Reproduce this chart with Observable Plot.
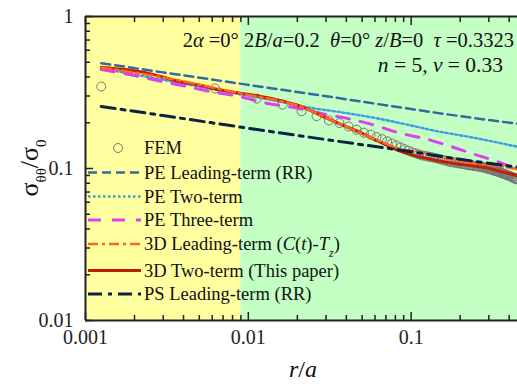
<!DOCTYPE html>
<html><head><meta charset="utf-8">
<script src="https://cdn.jsdelivr.net/npm/d3@7"></script>
<script src="https://cdn.jsdelivr.net/npm/@observablehq/plot@0.6"></script>
<style>
body{margin:0;background:#fff}
svg{display:block}
#chart svg, #chart svg text, #chart svg tspan { font-family: "Liberation Serif", "Times New Roman", serif !important; }
</style>
</head><body><div id="chart"></div>
<script>
// ---- data ----
const femR = [0.00125,0.00625,0.01125,0.01625,0.02125,0.02625,0.03125,0.03625,0.04125,0.04625,
  0.05125,0.05625,0.06125,0.06625,0.07125,0.07625,0.08125,0.08625,0.09125,0.09625,
  0.10125,0.10625,0.11125,0.11625,0.12125,0.12625,0.13125,0.13625,0.14125,0.14625,
  0.15125,0.15625,0.16125,0.16625,0.17125,0.17625,0.18125,0.18625,0.19125,0.19625,
  0.20125,0.20625,0.21125,0.21625,0.22125,0.22625,0.23125,0.23625,0.24125,0.24625,
  0.25125,0.25625,0.26125,0.26625,0.27125,0.27625,0.28125,0.28625,0.29125,0.29625,
  0.30125,0.30625,0.31125,0.31625,0.32125,0.32625,0.33125,0.33625,0.34125,0.34625,
  0.35125,0.35625,0.36125,0.36625,0.37125,0.37625,0.38125,0.38625,0.39125,0.39625,
  0.40125,0.40625,0.41125,0.41625,0.42125,0.42625,0.43125,0.43625,0.44125,0.44625];
const femS = [0.346,0.336,0.288,0.263,0.238,0.221,0.207,0.199,0.189,0.180,
  0.172,0.167,0.161,0.156,0.151,0.146,0.142,0.138,0.134,0.131,
  0.128,0.126,0.124,0.122,0.121,0.120,0.119,0.118,0.117,0.116,
  0.115,0.114,0.113,0.112,0.111,0.110,0.110,0.109,0.109,0.108,
  0.108,0.107,0.107,0.106,0.106,0.105,0.105,0.105,0.104,0.104,
  0.104,0.103,0.103,0.103,0.102,0.102,0.101,0.101,0.100,0.100,
  0.099,0.099,0.098,0.098,0.097,0.097,0.096,0.096,0.095,0.095,
  0.094,0.094,0.093,0.093,0.092,0.092,0.091,0.091,0.090,0.090,
  0.089,0.089,0.088,0.088,0.087,0.087,0.086,0.086,0.085,0.085];

const peLeadR = [0.00125,0.003,0.01,0.03,0.1,0.2,0.45];
const peLeadS = [0.493,0.429,0.355,0.299,0.246,0.221,0.197];

const peTwoR = [0.00125,0.003,0.0089,0.0163,0.0229,0.0366,0.0643,0.0893,0.144,0.23,0.45];
const peTwoS = [0.455,0.383,0.308,0.273,0.253,0.235,0.212,0.197,0.176,0.161,0.139];

const peThreeR = [0.00125,0.002,0.0029,0.0042,0.0061,0.0089,0.0129,0.0195,0.0275,0.0417,0.0573,0.085,0.122,0.167,0.239,0.33,0.45];
const peThreeS = [0.448,0.409,0.375,0.346,0.318,0.297,0.269,0.251,0.231,0.212,0.195,0.171,0.157,0.142,0.125,0.112,0.099];

const d3LeadR = [0.00125,0.0029,0.0089,0.021,0.037,0.06,0.089,0.114,0.144,0.181,0.23,0.29,0.366,0.45];
const d3LeadS = [0.462,0.400,0.312,0.255,0.195,0.156,0.133,0.128,0.120,0.114,0.109,0.106,0.103,0.099];

const d3TwoR = [0.00125,0.0018,0.0024,0.0029,0.0037,0.0051,0.0067,0.0089,0.0119,0.0157,0.021,0.028,0.037,0.049,0.06,0.071,0.089,0.114,0.144,0.181,0.23,0.29,0.366,0.45];
const d3TwoS = [0.464,0.446,0.424,0.403,0.375,0.352,0.329,0.313,0.298,0.280,0.256,0.223,0.195,0.172,0.155,0.142,0.128,0.119,0.113,0.108,0.1047,0.101,0.0946,0.090];

const psLeadR = [0.00125,0.003,0.01,0.03,0.1,0.2,0.45];
const psLeadS = [0.256,0.223,0.184,0.155,0.129,0.115,0.102];

const bgX1 = [0.001, 0.009];
const bgX2 = [0.009, 0.45];
const bgFill = ["#ffffa0", "#c4ffc4"];

const xMajor = [0.001, 0.01, 0.1];
const xMajorLabels = ["0.001", "0.01", "0.1"];
const xMinor = [0.002,0.003,0.004,0.005,0.006,0.007,0.008,0.009,0.02,0.03,0.04,0.05,0.06,0.07,0.08,0.09,0.2,0.3,0.4];
const yMajor = [0.01, 0.1, 1];
const yMajorLabels = ["0.01", "0.1", "1"];
const yMinor = [0.02,0.03,0.04,0.05,0.06,0.07,0.08,0.09,0.2,0.3,0.4,0.5,0.6,0.7,0.8,0.9];

// ---- styles ----
const C = {
  fem: "#777777", peLead: "#2f6c9c", peTwo: "#3d9de0", peThree: "#e03ff0",
  d3Lead: "#ff6420", d3Two: "#c01e08", psLead: "#0b2242", axis: "#222"
};
const serif = "'Liberation Serif', 'Times New Roman', serif";

const plot = Plot.plot({
  width: 517, height: 388,
  marginLeft: 85, marginRight: 0, marginTop: 16, marginBottom: 68,
  style: {fontFamily: serif, fontSize: "20px", color: "#222", background: "#fff", overflow: "visible"},
  x: {type: "log", domain: [0.001, 0.45], axis: null},
  y: {type: "log", domain: [0.01, 1], axis: null},
  color: {type: "identity"},
  marks: [
    Plot.rect(bgX1, {x1: d => d, x2: (d, i) => bgX2[i], y1: 0.01, y2: 1, fill: (d, i) => bgFill[i]}),
    Plot.line(peLeadS, {x: peLeadR, y: peLeadS, stroke: C.peLead, strokeWidth: 2.5, strokeDasharray: "9,5", curve: "monotone-x"}),
    Plot.line(peTwoS, {x: peTwoR, y: peTwoS, stroke: C.peTwo, strokeWidth: 2.4, strokeDasharray: "2.5,2.5", curve: "monotone-x"}),
    Plot.line(peThreeS, {x: peThreeR, y: peThreeS, stroke: C.peThree, strokeWidth: 3, strokeDasharray: "13,11", curve: "monotone-x"}),
    Plot.dot(femS, {x: femR, y: femS, r: 4.5, stroke: C.fem, strokeWidth: 1, fill: "none"}),
    Plot.line(d3TwoS, {x: d3TwoR, y: d3TwoS, stroke: C.d3Two, strokeWidth: 3, curve: "monotone-x"}),
    Plot.line(d3LeadS, {x: d3LeadR, y: d3LeadS, stroke: C.d3Lead, strokeWidth: 2.5, strokeDasharray: "10,4,3,4", curve: "monotone-x"}),
    Plot.line(psLeadS, {x: psLeadR, y: psLeadS, stroke: C.psLead, strokeWidth: 3, strokeDasharray: "14,6,4,6", curve: "monotone-x"}),
    // frame
    Plot.ruleX([0.001], {stroke: C.axis, strokeWidth: 2}),
    Plot.ruleY([0.01, 1], {stroke: C.axis, strokeWidth: 2}),
    // inward ticks
    Plot.axisX(xMajor, {anchor: "bottom", tickSize: -8, fill: "none", stroke: C.axis, strokeWidth: 1.5}),
    Plot.axisX(xMinor, {anchor: "bottom", tickSize: -5, fill: "none", stroke: C.axis, strokeWidth: 1.5}),
    Plot.axisX(xMajor, {anchor: "top", tickSize: -8, fill: "none", stroke: C.axis, strokeWidth: 1.5}),
    Plot.axisX(xMinor, {anchor: "top", tickSize: -5, fill: "none", stroke: C.axis, strokeWidth: 1.5}),
    Plot.axisY(yMajor, {anchor: "left", tickSize: -8, fill: "none", stroke: C.axis, strokeWidth: 1.5}),
    Plot.axisY(yMinor, {anchor: "left", tickSize: -5, fill: "none", stroke: C.axis, strokeWidth: 1.5}),
    // tick labels
    Plot.axisX(xMajor, {anchor: "bottom", tickSize: 0, tickPadding: 9, label: null, fill: "#222",
      tickFormat: d => xMajorLabels[xMajor.indexOf(d)]}),
    Plot.axisY(yMajor, {anchor: "left", tickSize: 0, tickPadding: 12, label: null, fill: "#222",
      tickFormat: d => yMajorLabels[yMajor.indexOf(d)]})
  ]
});
document.getElementById("chart").appendChild(plot);

// ---- text annotations, axis titles, legend ----
const svg = d3.select(plot);
const txt = svg.append("g").attr("font-family", serif).attr("fill", "#111").attr("text-anchor", "start");

function rich(g, parts, attrs) {
  const t = g.append("text").attr("text-anchor", "start").attr("font-family", serif);
  Object.entries(attrs).forEach(([k, v]) => t.attr(k, v));
  parts.forEach(p => {
    const s = t.append("tspan").text(p.t);
    if (p.i) s.attr("font-style", "italic");
    if (p.sub) s.attr("baseline-shift", "sub").attr("font-size", p.sub);
  });
  return t;
}

// parameter line 1
rich(txt, [
  {t: "2"}, {t: "α", i: 1}, {t: "\u00a0=0°\u00a02"}, {t: "B", i: 1}, {t: "/"}, {t: "a", i: 1}, {t: "=0.2\u00a0\u00a0"},
  {t: "θ", i: 1}, {t: "=0°\u00a0"}, {t: "z", i: 1}, {t: "/"}, {t: "B", i: 1}, {t: "=0\u00a0\u00a0"},
  {t: "τ", i: 1}, {t: "\u00a0=0.3323"}
], {x: 514, y: 47, "text-anchor": "end", "font-size": 20.5});
// parameter line 2
rich(txt, [
  {t: "n", i: 1}, {t: " = 5, "}, {t: "ν", i: 1}, {t: " = 0.33"}
], {x: 503, y: 72, "text-anchor": "end", "font-size": 21.5});

// x title
rich(txt, [{t: "r", i: 1}, {t: "/"}, {t: "a", i: 1}],
  {x: 303, y: 377, "text-anchor": "middle", "font-size": 24});

// y title
rich(txt, [{t: "σ"}, {t: "θθ", sub: 15}, {t: "/"}, {t: "σ"}, {t: "0", sub: 15}],
  {transform: "translate(38,168) rotate(-90)", "text-anchor": "middle", "font-size": 26});

// legend
const legendItems = [
  {y: 148, kind: "dot", parts: [{t: "FEM"}]},
  {y: 172.5, stroke: C.peLead, w: 2.5, dash: "9,5", parts: [{t: "PE Leading-term (RR)"}]},
  {y: 196.5, stroke: C.peTwo, w: 2.4, dash: "2.5,2.5", parts: [{t: "PE Two-term"}]},
  {y: 220, stroke: C.peThree, w: 3, dash: "13,11", parts: [{t: "PE Three-term"}]},
  {y: 244, stroke: C.d3Lead, w: 2.5, dash: "10,4,3,4", parts: [{t: "3D Leading-term ("}, {t: "C", i: 1}, {t: "("}, {t: "t", i: 1}, {t: ")-"}, {t: "T", i: 1}, {t: "z", i: 1, sub: 12}, {t: ")"}]},
  {y: 270.5, stroke: C.d3Two, w: 3, dash: null, parts: [{t: "3D Two-term (This paper)"}]},
  {y: 294, stroke: C.psLead, w: 3, dash: "14,6,4,6", parts: [{t: "PS Leading-term (RR)"}]}
];
const lg = svg.append("g").attr("font-family", serif).attr("fill", "#111");
legendItems.forEach(it => {
  if (it.kind === "dot") {
    lg.append("circle").attr("cx", 118).attr("cy", it.y).attr("r", 4.5)
      .attr("fill", "none").attr("stroke", C.fem).attr("stroke-width", 1);
  } else {
    const l = lg.append("line").attr("x1", 88).attr("x2", 141).attr("y1", it.y).attr("y2", it.y)
      .attr("stroke", it.stroke).attr("stroke-width", it.w);
    if (it.dash) l.attr("stroke-dasharray", it.dash);
  }
  rich(lg, it.parts, {x: 144, y: it.y + 6, "font-size": 18.5});
});
</script>
</body></html>
